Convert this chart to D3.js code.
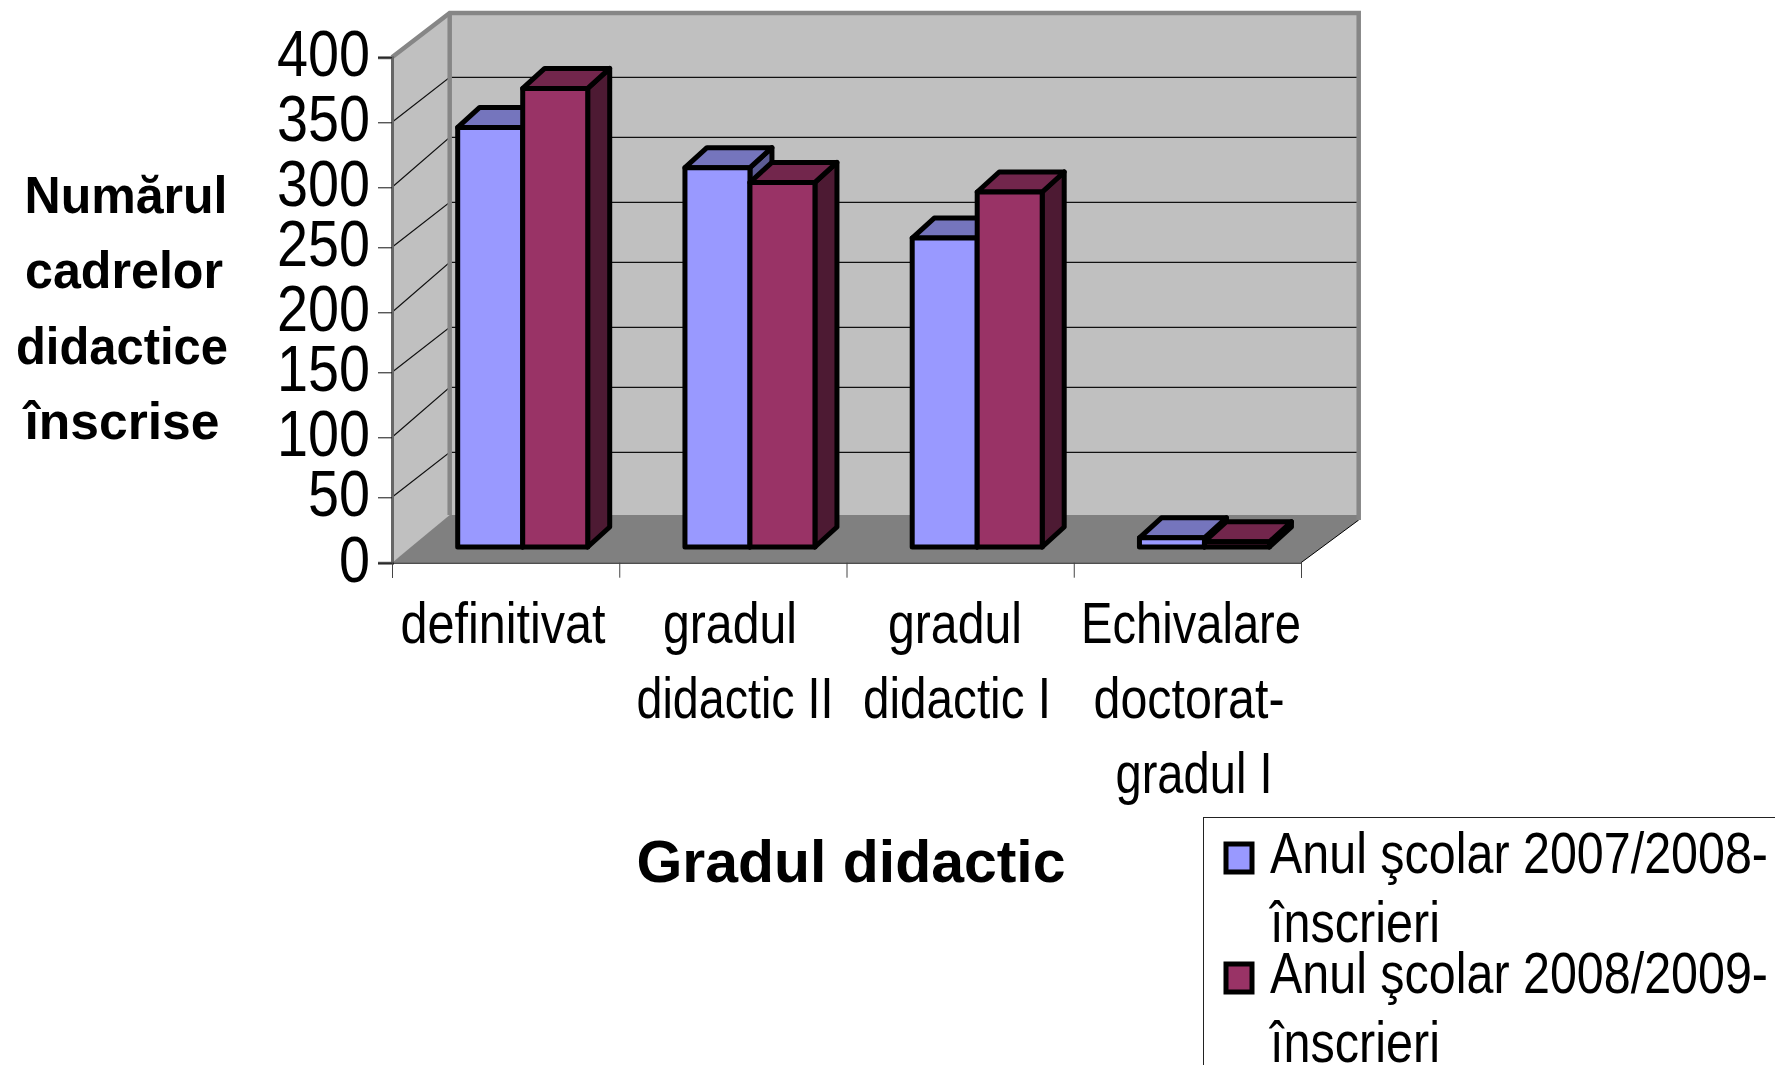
<!DOCTYPE html>
<html>
<head>
    <meta charset="utf-8">
    <title>Numarul cadrelor didactice inscrise</title>
    <script src="https://d3js.org/d3.v7.min.js"></script>
    <style>
        html, body { margin: 0; padding: 0; background: #fff; overflow: hidden; }
        text { font-family: "Liberation Sans", Arial, sans-serif; fill: #000; }
    </style>
</head>
<body>
    <div id="chart"></div>
    <script>
        // values
        var categories = ["definitivat", "gradul didactic II", "gradul didactic I", "Echivalare doctorat-gradul I"];
        var categoryLines = [["definitivat"], ["gradul", "didactic II"], ["gradul", "didactic I"], ["Echivalare", "doctorat-", "gradul I"]];
        var seriesNames = ["Anul şcolar 2007/2008-", "Anul şcolar 2008/2009-"];
        var values2007 = [334, 303, 245, 7];
        var values2008 = [364, 291, 283, 4];
        var yTicks = [0, 50, 100, 150, 200, 250, 300, 350, 400];
        var yTitleLines = ["Numărul", "cadrelor", "didactice", "înscrise"];

        // the picture's ticks are pixel snapped and not evenly spaced, so the scales keep that
        var frontTickY = [562.7, 497.3, 437.3, 372.3, 312.3, 247.3, 187.3, 122.3, 57.3];
        var backTickY = [518, 452.3, 387.3, 327.3, 262.3, 202.3, 137.3, 77.3, 13];

        // text fit: [centre x, width] for each line, the original font is narrower than ours
        var categoryFit = [
            [[503, 205]],
            [[730, 134], [735, 197]],
            [[955, 134], [957, 188]],
            [[1191, 220], [1189, 191], [1194, 157]]
        ];
        var yTitleFit = [[126, 203], [124, 198], [122, 212], [122, 195]];

        var colors = [
            { front: "#9999ff", top: "#7575bd", side: "#5c5c94" },
            { front: "#993366", top: "#72264c", side: "#4d1a33" }
        ];

        var svg = d3.select("#chart").append("svg")
            .attr("width", 1775)
            .attr("height", 1065)
            .style("display", "block");

        var x0 = 392, x1 = 1301;
        var backDx = 57.7;
        var y = d3.scaleLinear().domain(yTicks).range(frontTickY);
        var yBack = d3.scaleLinear().domain(yTicks).range(backTickY);
        var x = d3.scaleBand().domain(categories).range([x0, x1]);
        var xTicks = d3.scaleLinear().domain([0, categories.length]).range([x0, x1]);
        var bar = d3.scaleBand().domain([0, 1]).range([45, 175]);

        // where the bars stand inside the box, as screen offsets
        var barFront = { dx: 20.7, dy: -15.7 };
        var barDepth = { dx: 22, dy: -20 };

        function pts(list) {
            return list.map(p => p.join(",")).join(" ");
        }

        function fit(sel, width) {
            return sel.attr("textLength", width).attr("lengthAdjust", "spacingAndGlyphs");
        }

        // walls and floor
        var xb0 = x0 + backDx, xb1 = x1 + backDx;
        svg.append("polygon")
            .attr("points", pts([[x0, y(400)], [xb0, yBack(400)], [xb0, yBack(0)], [x0, y(0)]]))
            .attr("fill", "#c0c0c0");
        svg.append("rect")
            .attr("x", xb0).attr("y", yBack(400))
            .attr("width", xb1 - xb0).attr("height", yBack(0) - yBack(400))
            .attr("fill", "#c0c0c0");

        // gridlines, on the side wall and on the back wall
        yTicks.slice(1, -1).forEach(v => {
            svg.append("polyline")
                .attr("points", pts([[x0, y(v)], [xb0, yBack(v)], [xb1, yBack(v)]]))
                .attr("fill", "none")
                .attr("stroke", "#111")
                .attr("stroke-width", 1.2);
        });

        svg.append("polygon")
            .attr("points", pts([[x0, y(0)], [xb0, yBack(0) - 3], [xb1, yBack(0) - 3], [xb1, yBack(0) + 2], [x1, y(0)]]))
            .attr("fill", "#808080");
        svg.append("line")
            .attr("x1", x1).attr("y1", y(0))
            .attr("x2", xb1).attr("y2", yBack(0) + 2)
            .attr("stroke", "#000")
            .attr("stroke-width", 1);

        // grey outline of the walls
        svg.append("polyline")
            .attr("points", pts([[x0, y(400)], [xb0, yBack(400)], [xb1, yBack(400)], [xb1, yBack(0) + 2]]))
            .attr("fill", "none")
            .attr("stroke", "#868686")
            .attr("stroke-width", 4.5);
        svg.append("line")
            .attr("x1", xb0).attr("y1", yBack(400))
            .attr("x2", xb0).attr("y2", yBack(0) - 3)
            .attr("stroke", "#868686")
            .attr("stroke-width", 4.5);

        // bars, the later series overlaps the earlier one
        function drawBar(cat, seriesIndex, value) {
            var left = x(cat) + bar(seriesIndex) + barFront.dx;
            var right = left + bar.bandwidth();
            var top = y(value) + barFront.dy;
            var bottom = y(0) + barFront.dy;
            var dx = barDepth.dx, dy = barDepth.dy;
            var g = svg.append("g")
                .attr("stroke", "#000")
                .attr("stroke-width", 5)
                .attr("stroke-linejoin", "round");
            g.append("polygon")
                .attr("points", pts([[right, top], [right + dx, top + dy], [right + dx, bottom + dy], [right, bottom]]))
                .attr("fill", colors[seriesIndex].side);
            g.append("polygon")
                .attr("points", pts([[left, top], [left + dx, top + dy], [right + dx, top + dy], [right, top]]))
                .attr("fill", colors[seriesIndex].top);
            g.append("rect")
                .attr("x", left).attr("y", top)
                .attr("width", right - left).attr("height", bottom - top)
                .attr("fill", colors[seriesIndex].front);
        }

        categories.forEach((cat, i) => {
            drawBar(cat, 0, values2007[i]);
            drawBar(cat, 1, values2008[i]);
        });

        // y axis
        var yAxis = svg.append("g")
            .attr("transform", `translate(${x0},0)`)
            .call(d3.axisLeft(y).tickValues(yTicks).tickSize(14).tickPadding(8));
        yAxis.selectAll("text")
            .attr("font-size", 64)
            .attr("dy", "0.29em")
            .attr("textLength", d => String(d).length * 31)
            .attr("lengthAdjust", "spacingAndGlyphs");
        yAxis.selectAll("line").attr("stroke", "#111");
        yAxis.select(".domain").attr("stroke", "#666").attr("stroke-width", 3);

        // x axis, ticks sit between the categories
        var xAxis = svg.append("g")
            .attr("transform", `translate(0,${y(0)})`)
            .call(d3.axisBottom(xTicks).ticks(categories.length).tickSize(15).tickFormat(""));
        xAxis.selectAll("line").attr("stroke", "#444");

        // category labels
        categories.forEach((cat, i) => {
            categoryLines[i].forEach((line, j) => {
                svg.append("text")
                    .attr("x", categoryFit[i][j][0])
                    .attr("y", 643 + j * 75)
                    .attr("text-anchor", "middle")
                    .attr("font-size", 58)
                    .call(fit, categoryFit[i][j][1])
                    .text(line);
            });
        });

        // axis titles
        yTitleLines.forEach((line, j) => {
            svg.append("text")
                .attr("x", yTitleFit[j][0])
                .attr("y", 213 + j * 75.3)
                .attr("text-anchor", "middle")
                .attr("font-size", 52)
                .attr("font-weight", "bold")
                .call(fit, yTitleFit[j][1])
                .text(line);
        });
        svg.append("text")
            .attr("x", 851)
            .attr("y", 882)
            .attr("text-anchor", "middle")
            .attr("font-size", 60)
            .attr("font-weight", "bold")
            .call(fit, 429)
            .text("Gradul didactic");

        // legend, it runs off the page at the right and at the bottom
        var legend = svg.append("g");
        legend.append("rect")
            .attr("x", 1203.5).attr("y", 817.5)
            .attr("width", 620).attr("height", 300)
            .attr("fill", "#fff")
            .attr("stroke", "#222")
            .attr("stroke-width", 1);
        seriesNames.forEach((name, i) => {
            var rowY = 120 * i;
            legend.append("rect")
                .attr("x", 1226).attr("y", 844 + rowY)
                .attr("width", 26).attr("height", 28)
                .attr("fill", colors[i].front)
                .attr("stroke", "#000")
                .attr("stroke-width", 5);
            legend.append("text")
                .attr("x", 1270).attr("y", 873 + rowY)
                .attr("font-size", 58)
                .call(fit, 498)
                .text(name);
            legend.append("text")
                .attr("x", 1270).attr("y", 942 + rowY)
                .attr("font-size", 58)
                .call(fit, 170)
                .text("înscrieri");
        });
    </script>
</body>
</html>
